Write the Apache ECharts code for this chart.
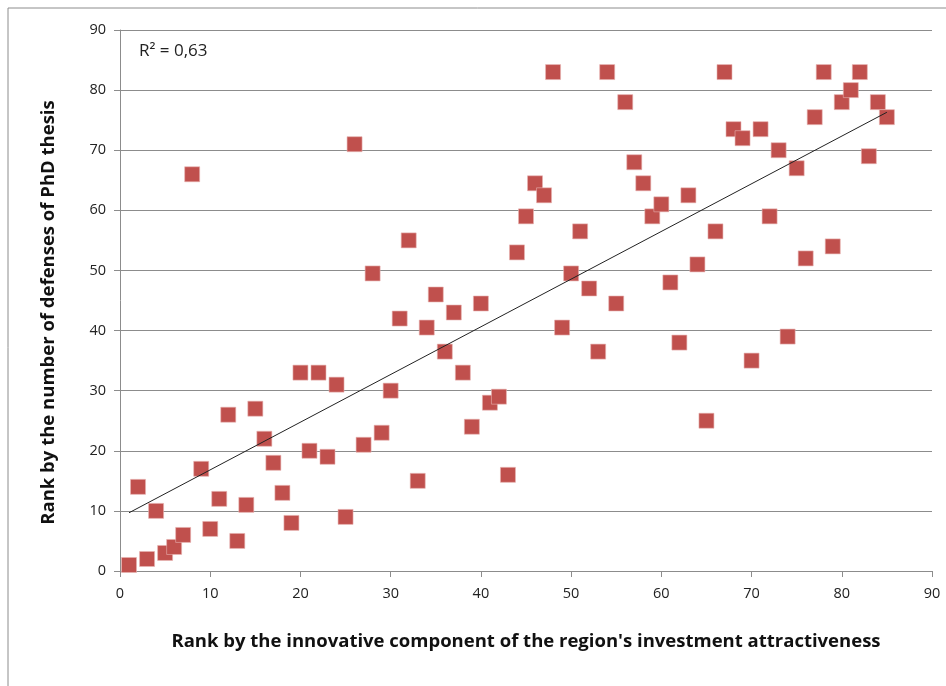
<!DOCTYPE html>
<html>
<head>
<meta charset="utf-8">
<script src="https://cdn.jsdelivr.net/npm/echarts@6/dist/echarts.min.js"></script>
<style>
  html, body { margin: 0; padding: 0; background: #fff; }
  #container { width: 946px; height: 686px; }
</style>
</head>
<body>
<div id="container"></div>
<script>
// rank by innovative component (x) and rank by PhD defenses (y)
var innovRank = [];
for (var i = 1; i <= 85; i++) innovRank.push(i);
var phdRank = [
  1, 14, 2, 10, 3, 4, 6, 66, 17, 7,
  12, 26, 5, 11, 27, 22, 18, 13, 8, 33,
  20, 33, 19, 31, 9, 71, 21, 49.5, 23, 30,
  42, 55, 15, 40.5, 46, 36.5, 43, 33, 24, 44.5,
  28, 29, 16, 53, 59, 64.5, 62.5, 83, 40.5, 49.5,
  56.5, 47, 36.5, 83, 44.5, 78, 68, 64.5, 59, 61,
  48, 38, 62.5, 51, 25, 56.5, 83, 73.5, 72, 35,
  73.5, 59, 70, 39, 67, 52, 75.5, 83, 54, 78,
  80, 83, 69, 78, 75.5
];
var xTicks = { min: 0, max: 90, interval: 10 };
var yTicks = { min: 0, max: 90, interval: 10 };
var r2Label = 'R² = 0,63';

var points = innovRank.map(function (x, i) { return [x, phdRank[i]]; });

// least squares trend line
var n = points.length, sx = 0, sy = 0, sxy = 0, sxx = 0;
points.forEach(function (p) { sx += p[0]; sy += p[1]; sxy += p[0] * p[1]; sxx += p[0] * p[0]; });
var slope = (n * sxy - sx * sy) / (n * sxx - sx * sx);
var icpt = (sy - slope * sx) / n;
var xMin = Math.min.apply(null, innovRank), xMax = Math.max.apply(null, innovRank);
var trend = [[xMin, icpt + slope * xMin], [xMax, icpt + slope * xMax]];

var dom = document.getElementById('container');
var myChart = echarts.init(dom, null, { renderer: 'canvas' });

var font = "'Open Sans', sans-serif";

var option = {
  backgroundColor: '#fff',
  animation: false,
  grid: { left: 120, right: 14, top: 30, bottom: 115 },
  graphic: [
    { type: 'rect', shape: { x: 8, y: 8, width: 960, height: 700 },
      style: { fill: 'none', stroke: '#8c8c8c', lineWidth: 1 }, silent: true },
    { type: 'text', left: 139, top: 43,
      style: { text: r2Label, fill: '#222', font: '17px ' + font } }
  ],
  xAxis: {
    type: 'value',
    min: xTicks.min, max: xTicks.max, interval: xTicks.interval,
    name: "Rank by the innovative component of the region's investment attractiveness",
    nameLocation: 'middle', nameGap: 61,
    nameTextStyle: { fontFamily: font, fontWeight: 'bold', fontSize: 18.5, color: '#111' },
    axisLine: { show: true, lineStyle: { color: '#8c8c8c' } },
    axisTick: { show: true, length: 6, lineStyle: { color: '#8c8c8c' } },
    axisLabel: { fontFamily: font, fontSize: 14.5, color: '#222', margin: 15 },
    splitLine: { show: false }
  },
  yAxis: {
    type: 'value',
    min: yTicks.min, max: yTicks.max, interval: yTicks.interval,
    name: 'Rank by the number of defenses of PhD thesis',
    nameLocation: 'middle', nameGap: 62, nameRotate: 90,
    nameTextStyle: { fontFamily: font, fontWeight: 'bold', fontSize: 18.5, color: '#111', padding: [0, 24, 0, 0] },
    axisLine: { show: true, lineStyle: { color: '#8c8c8c' } },
    axisTick: { show: true, length: 6, lineStyle: { color: '#8c8c8c' } },
    axisLabel: { fontFamily: font, fontSize: 14.5, color: '#222', margin: 14 },
    splitLine: { show: true, lineStyle: { color: '#8c8c8c', width: 1 } }
  },
  series: [
    {
      type: 'scatter',
      data: points,
      symbol: 'rect',
      symbolSize: 15,
      itemStyle: { color: '#c0504d', opacity: 1, borderColor: '#e8b4b2', borderWidth: 0.6 },
      z: 3
    },
    {
      type: 'line',
      data: trend,
      symbol: 'none',
      lineStyle: { color: '#222', width: 1 },
      z: 4
    }
  ]
};

myChart.setOption(option);
window.addEventListener('resize', myChart.resize);
</script>
</body>
</html>
